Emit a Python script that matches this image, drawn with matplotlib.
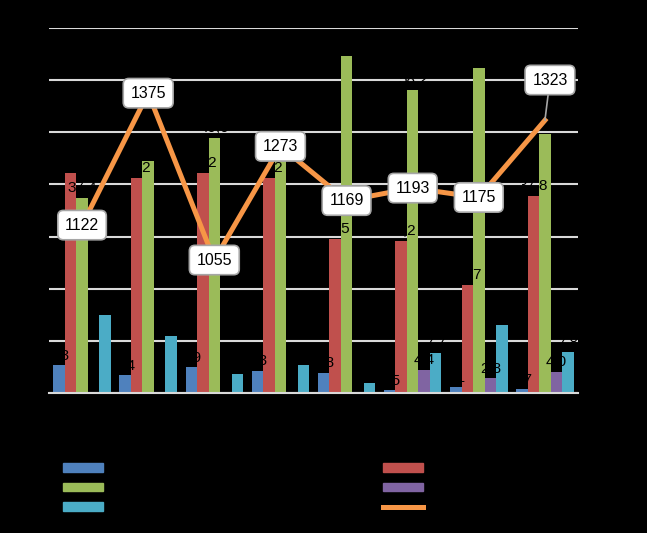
import numpy as np
import matplotlib
matplotlib.use("Agg")
import matplotlib.pyplot as plt
from matplotlib.patches import Patch
from matplotlib.lines import Line2D

# ---- data ----
categories = ["1", "2", "3", "4", "5", "6", "7", "8"]
series_names = ["Series 1", "Series 2", "Series 3", "Series 4", "Series 5", "Series 6"]
blue = [5.3, 3.4, 4.9, 4.3, 3.8, 0.5, 1.1, 0.7]
red = [42.1, 41.2, 42.2, 41.2, 29.5, 29.2, 20.7, 37.8]
green = [37.4, 44.4, 49.0, 44.6, 64.6, 58.2, 62.3, 49.6]
purple = [np.nan, np.nan, np.nan, np.nan, np.nan, 4.4, 2.8, 4.0]
cyan = [14.9, 10.9, 3.6, 5.3, 2.0, 7.7, 13.0, 7.8]
line_vals = [1122, 1375, 1055, 1273, 1169, 1193, 1175, 1323]
left_ticks = [0, 10, 20, 30, 40, 50, 60, 70]
right_ticks = [800, 900, 1000, 1100, 1200, 1300, 1400, 1500]

colors = ["#4F81BD", "#C0504D", "#9BBB59", "#8064A2", "#4BACC6"]
orange = "#F79646"
grid_c = "#D9D9D9"

fig = plt.figure(figsize=(6.47, 5.33), dpi=100, facecolor="black")
ax = fig.add_axes([49/647, 1-393/533, 529/647, 365/533])
ax.set_facecolor("black")

x = np.arange(len(categories))
w = 11.5 / 66.1
bar_series = [blue, red, green, purple, cyan]
for k, (vals, c) in enumerate(zip(bar_series, colors)):
    xs = x + (k - 2) * w
    ax.bar(xs, vals, width=w, color=c, zorder=2, linewidth=0)
    for xi, v in zip(xs, vals):
        if np.isnan(v):
            continue
        ax.annotate(f"{v:.1f}".replace(".", ","), (xi, v), xytext=(0, 7),
                    textcoords="offset points", ha="center", va="center",
                    fontsize=11, color="black", zorder=3,
                    family=["Liberation Sans", "DejaVu Sans"])

ax.set_xlim(-0.5, len(categories) - 0.5)
ax.set_ylim(left_ticks[0], left_ticks[-1])
ax.set_yticks(left_ticks)
ax.yaxis.grid(True, color=grid_c, linewidth=1.5, zorder=0)
ax.set_axisbelow(True)
for s in ["top", "right", "left"]:
    ax.spines[s].set_visible(False)
ax.spines["bottom"].set_color(grid_c)
ax.spines["bottom"].set_linewidth(1.5)
ax.set_xticks(x)
ax.set_xticklabels(categories)
ax.tick_params(axis="both", length=0, colors="black", labelsize=10)

ax2 = ax.twinx()
ax2.set_ylim(right_ticks[0], right_ticks[-1])
ax2.set_yticks(right_ticks)
ax2.tick_params(axis="y", length=0, colors="black", labelsize=10)
for s in ax2.spines.values():
    s.set_visible(False)
ax2.plot(x, line_vals, color=orange, linewidth=3.6, zorder=4, solid_joinstyle="miter")

box = dict(boxstyle="round,pad=0.45,rounding_size=0.35", fc="white", ec="#A6A6A6", lw=1.2)
for i, v in enumerate(line_vals):
    if i == len(line_vals) - 1:
        ax2.annotate(str(v), (x[i], v), xytext=(3.6, 29), textcoords="offset points",
                     ha="center", va="center", fontsize=11.5, color="black",
                     family=["Liberation Sans", "DejaVu Sans"], bbox=box, zorder=6,
                     arrowprops=dict(arrowstyle="-", color="#A6A6A6", lw=1.2,
                                     shrinkA=0, shrinkB=0))
    else:
        ax2.annotate(str(v), (x[i], v), xytext=(0, 0), textcoords="offset points",
                     ha="center", va="center", fontsize=11.5, color="black",
                     family=["Liberation Sans", "DejaVu Sans"], bbox=box, zorder=6)

# legend: two columns placed separately
h_left = [Patch(color=colors[0]), Patch(color=colors[2]), Patch(color=colors[4])]
l_left = [series_names[0], series_names[2], series_names[4]]
h_right = [Patch(color=colors[1]), Patch(color=colors[3]),
           Line2D([], [], color=orange, linewidth=3.6)]
l_right = [series_names[1], series_names[3], series_names[5]]
common = dict(frameon=False, fontsize=10, handlelength=2.9, handleheight=0.6,
              labelspacing=0.42, borderpad=0, borderaxespad=0, handletextpad=0.6,
              labelcolor="black")
leg1 = fig.legend(h_left, l_left, loc="upper left",
                  bbox_to_anchor=(63/647, 1-461/533), **common)
leg2 = fig.legend(h_right, l_right, loc="upper left",
                  bbox_to_anchor=(383/647, 1-461/533), **common)

fig.savefig("out.png", dpi=100, facecolor="black")
